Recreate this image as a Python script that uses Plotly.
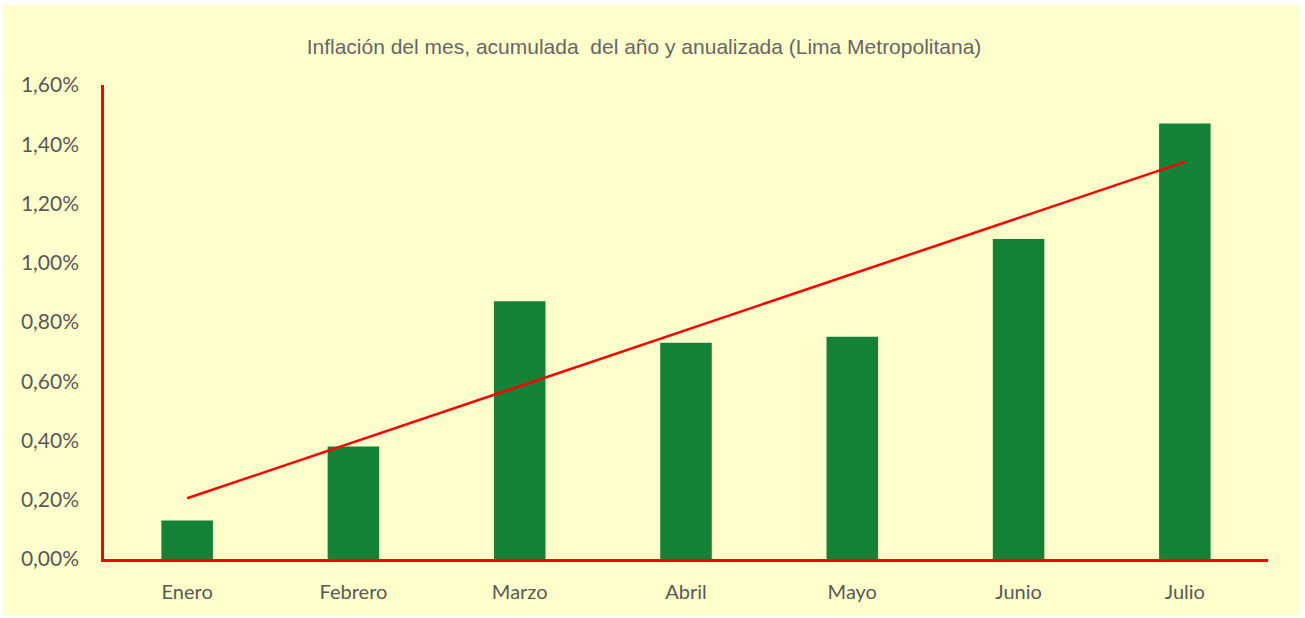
import numpy as np
import plotly.graph_objects as go

# Monthly inflation, Lima Metropolitana (%)
meses = ["Enero", "Febrero", "Marzo", "Abril", "Mayo", "Junio", "Julio"]
inflacion = [0.13, 0.38, 0.87, 0.73, 0.75, 1.08, 1.47]
y_ticks = [0.0, 0.2, 0.4, 0.6, 0.8, 1.0, 1.2, 1.4, 1.6]
y_tick_text = ["0,00%", "0,20%", "0,40%", "0,60%", "0,80%", "1,00%", "1,20%", "1,40%", "1,60%"]
titulo = "Inflación del mes, acumulada  del año y anualizada (Lima Metropolitana)"

# Linear trend line fitted to the monthly values
idx = np.arange(1, len(meses) + 1)
pend, corte = np.polyfit(idx, inflacion, 1)
tendencia = pend * idx + corte

W, H = 1305, 618
ML, MR, MT, MB = 104, 37, 85, 59
BG = "#FFFFCC"
GRIS = "#595959"

fig = go.Figure()
fig.add_trace(go.Bar(x=meses, y=inflacion, width=0.31,
                     marker=dict(color="#138237", line=dict(width=0)),
                     hoverinfo="x+y"))
fig.add_trace(go.Scatter(x=[meses[0], meses[-1]], y=[tendencia[0], tendencia[-1]],
                         mode="lines", line=dict(color="#FF0000", width=2.5),
                         hoverinfo="skip"))

# white frame around the chart panel
pw, ph = W - ML - MR, H - MT - MB
def px_x(v):
    return (v - ML) / pw
def px_y(v):
    return (H - MB - v) / ph

fig.add_shape(type="rect", xref="paper", yref="paper", layer="below",
              x0=px_x(0), x1=px_x(W), y0=px_y(H), y1=px_y(0),
              fillcolor="white", line=dict(width=0))
fig.add_shape(type="rect", xref="paper", yref="paper", layer="below",
              x0=px_x(3), x1=px_x(1300), y0=px_y(616), y1=px_y(5),
              fillcolor=BG, line=dict(width=0))

fig.update_layout(
    width=W, height=H,
    margin=dict(l=ML, r=MR, t=MT, b=MB, pad=0, autoexpand=False),
    paper_bgcolor=BG, plot_bgcolor=BG,
    showlegend=False,
    title=dict(text=titulo, x=644 / W, xanchor="center", y=1 - 47 / H, yanchor="middle",
               automargin=False,
               font=dict(family="Liberation Sans, Arial", size=21, color="#666666")),
    xaxis=dict(showline=True, linecolor="#FF0000", linewidth=2.5, showgrid=False,
               ticks="", ticklabelstandoff=13, automargin=False,
               tickfont=dict(family="Lato, Calibri, sans-serif", size=20, color=GRIS),
               range=[-0.5, 6.5], fixedrange=True),
    yaxis=dict(showline=True, linecolor="#FF0000", linewidth=2.5, showgrid=False,
               zeroline=False, ticks="", ticklabelstandoff=18, automargin=False,
               range=[0, 1.6], tickvals=y_ticks, ticktext=y_tick_text,
               tickfont=dict(family="Lato, Calibri, sans-serif", size=21, color=GRIS),
               fixedrange=True),
)

fig.write_html("out.html")
